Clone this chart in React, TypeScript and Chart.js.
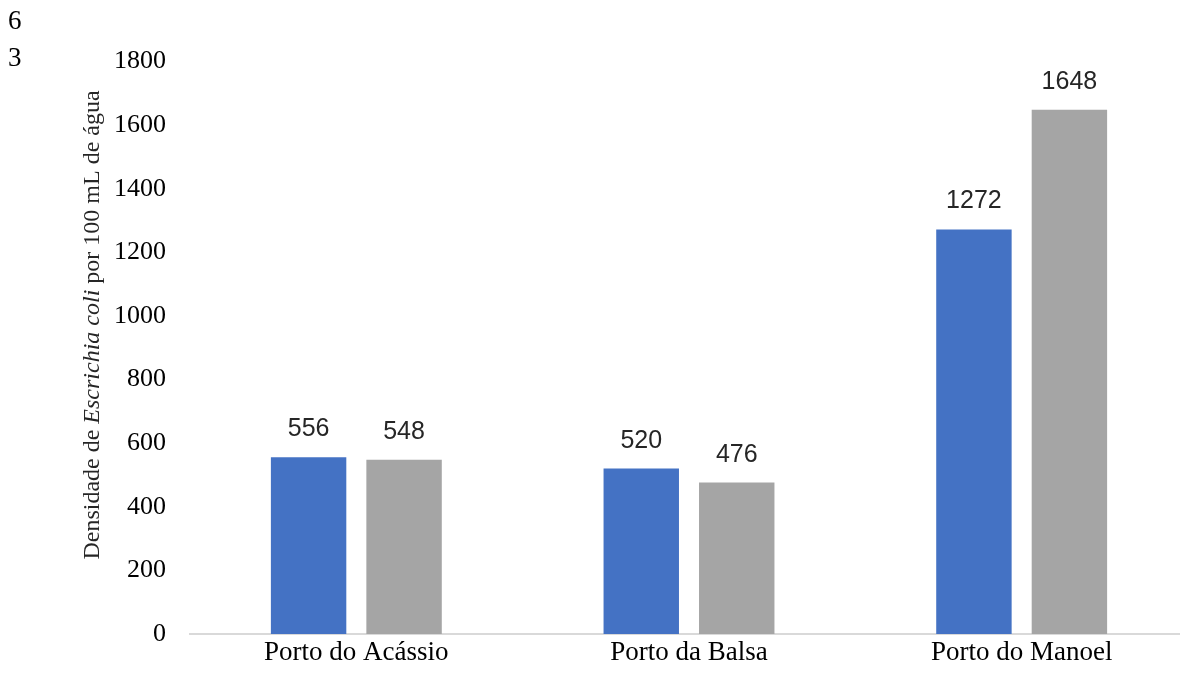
import React, { useEffect, useRef } from "react";
import { Chart, registerables } from "chart.js";

Chart.register(...registerables);

const categories = ["Porto do Acássio", "Porto da Balsa", "Porto do Manoel"];
const seriesA = [556, 520, 1272];
const seriesB = [548, 476, 1648];
const yTicks = [0, 200, 400, 600, 800, 1000, 1200, 1400, 1600, 1800];
const pageMarks = ["6", "3"];
const titleParts = [
  { text: "Densidade de ", italic: false },
  { text: "Escrichia coli", italic: true },
  { text: " por 100 mL de água", italic: false },
];

const SERIF = '"Liberation Serif", "Times New Roman", serif';
const SANS = '"Liberation Sans", Arial, sans-serif';

const extrasPlugin = {
  id: "extras",
  afterDatasetsDraw(chart: any) {
    const ctx = chart.ctx;
    ctx.save();
    // data labels
    ctx.font = `25px ${SANS}`;
    ctx.fillStyle = "#262626";
    ctx.textAlign = "center";
    ctx.textBaseline = "alphabetic";
    chart.data.datasets.forEach((ds: any, di: number) => {
      const meta = chart.getDatasetMeta(di);
      meta.data.forEach((bar: any, i: number) => {
        ctx.fillText(String(ds.data[i]), bar.x, bar.y - 21);
      });
    });
    // page marks
    ctx.font = `27px ${SERIF}`;
    ctx.fillStyle = "#000";
    ctx.textAlign = "left";
    ctx.fillText(pageMarks[0], 8, 29);
    ctx.fillText(pageMarks[1], 8, 66);
    // y-axis title with mixed styles
    const fontN = `24px ${SERIF}`;
    const fontI = `italic 24px ${SERIF}`;
    const widths = titleParts.map((p) => {
      ctx.font = p.italic ? fontI : fontN;
      return ctx.measureText(p.text).width;
    });
    const total = widths.reduce((a, b) => a + b, 0);
    ctx.translate(99, 325);
    ctx.rotate(-Math.PI / 2);
    ctx.fillStyle = "#262626";
    ctx.textAlign = "left";
    let x = -total / 2;
    titleParts.forEach((p, i) => {
      ctx.font = p.italic ? fontI : fontN;
      ctx.fillText(p.text, x, 0);
      x += widths[i];
    });
    ctx.restore();
  },
};

export default function App() {
  const ref = useRef<HTMLCanvasElement>(null);
  useEffect(() => {
    document.documentElement.style.overflow = "hidden";
    const chart = new Chart(ref.current!, {
      type: "bar",
      data: {
        labels: categories,
        datasets: [
          { label: "A", data: seriesA, backgroundColor: "#4472C4" },
          { label: "B", data: seriesB, backgroundColor: "#A5A5A5" },
        ],
      },
      options: {
        responsive: false,
        animation: false,
        devicePixelRatio: 1,
        layout: { padding: { top: 61.5, left: 0, right: 0, bottom: 0 } },
        plugins: {
          legend: { display: false },
          tooltip: { enabled: false },
        },
        datasets: {
          bar: { categoryPercentage: 0.574, barPercentage: 0.79 },
        },
        scales: {
          x: {
            grid: { display: false, drawTicks: false },
            border: { display: true, color: "#D9D9D9", width: 2 },
            ticks: {
              color: "#000",
              font: { family: SERIF, size: 27 },
              padding: 3,
              maxRotation: 0,
            },
            afterFit: (s: any) => {
              s.height = 47;
            },
          },
          y: {
            min: 0,
            max: 1800,
            grid: { display: false, drawTicks: false },
            border: { display: false },
            afterBuildTicks: (s: any) => {
              s.ticks = yTicks.map((v) => ({ value: v }));
            },
            ticks: {
              color: "#000",
              font: { family: SERIF, size: 26 },
              padding: 24,
              callback: (v: any) => String(v),
            },
            afterFit: (s: any) => {
              s.width = 190;
            },
          },
        },
      },
      plugins: [extrasPlugin],
    });
    return () => chart.destroy();
  }, []);
  return (
    <div style={{ position: "absolute", left: 0, top: 0, width: 1188, height: 681, background: "#fff" }}>
      <canvas ref={ref} width={1188} height={681} />
    </div>
  );
}
